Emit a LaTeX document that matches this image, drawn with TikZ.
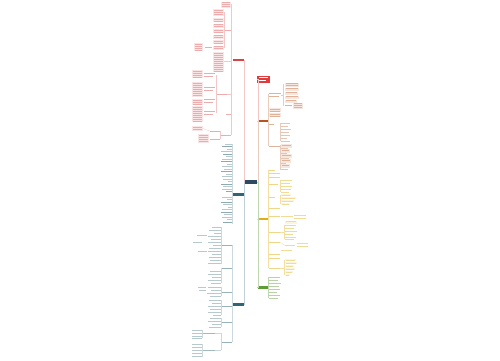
\documentclass[tikz,border=0pt]{standalone}
\usetikzlibrary{calc}
\definecolor{hubblue}{HTML}{2C4A61}
\definecolor{redbr}{HTML}{D64545}
\definecolor{tealbr}{HTML}{2F6577}
\definecolor{brownbr}{HTML}{B5561E}
\definecolor{goldbr}{HTML}{E2AE12}
\definecolor{greenbr}{HTML}{5E9C35}
\definecolor{titlered}{HTML}{E23B3B}

% one blurred text line: x1, x2, y, colour
\newcommand{\tline}[4]{\fill[#4] (#1,#3-0.5) rectangle (#2,#3+0.5);}
% a boxed text block: x1, y1, x2, y2, colour
\newcommand{\tblock}[5]{%
  \fill[#5!14] (#1,#2) rectangle (#3,#4);
  \pgfmathtruncatemacro{\nlines}{max(1,(#4-#2)/2)}%
  \foreach \k in {1,...,\nlines}{\fill[#5!45] (#1+0.6,#2+2*\k-1.2) rectangle (#3-0.6,#2+2*\k-0.5);}
}

\begin{document}
\begin{tikzpicture}[x=1pt,y=-1pt,
  main/.style={rectangle,inner sep=0pt,minimum width=11pt,minimum height=2.6pt},
  lk/.style={line width=0.3pt}]
  \useasboundingbox[fill=white] (0,0) rectangle (500,360);

  % main topics
  \node[main,fill=hubblue,minimum width=12.5pt,minimum height=4pt] (hub) at (251,182) {};
  \node[main,fill=redbr] (redL) at (238,60) {};
  \node[main,fill=tealbr] (tealA) at (238,194.5) {};
  \node[main,fill=tealbr,minimum height=3pt] (tealB) at (238,304) {};
  \node[main,fill=titlered,minimum width=12.5pt,minimum height=7pt] (title) at (263.5,79) {};
  \node[main,fill=brownbr] (brownR) at (263,121) {};
  \node[main,fill=goldbr] (goldR) at (263,219) {};
  \node[main,fill=greenbr,minimum height=3pt] (greenR) at (263,287) {};
  \tline{259}{268}{77.2}{white}
  \tline{259}{266}{80.6}{white}

  \draw[redbr!30,lk] (hub.west) -- ++(-0.6,0) |- (redL.east);
  \draw[tealbr!30,lk] (hub.west) -- ++(-0.6,0) |- (tealA.east);
  \draw[tealbr!30,lk] (hub.west) -- ++(-0.6,0) |- (tealB.east);
  \draw[titlered!30,lk] (hub.east) -- ++(0.6,0) |- (title.west);
  \draw[brownbr!30,lk] (hub.east) -- ++(0.6,0) |- (brownR.west);
  \draw[goldbr!40,lk] (hub.east) -- ++(0.6,0) |- (goldR.west);
  \draw[greenbr!40,lk] (hub.east) -- ++(0.6,0) |- (greenR.west);

  % red branch, left
  \draw[redbr!30,lk] (231.5,4) -- (231.5,135);
  \tblock{221}{1.5}{231}{7.5}{redbr}
  \tline{225}{231}{30}{redbr!45}
  \draw[redbr!30,lk] (224.5,12) -- (224.5,47.5);
  \tblock{213}{9}{224}{16}{redbr}
  \tblock{213}{18}{224}{22}{redbr}
  \tblock{213}{23.5}{224}{27.5}{redbr}
  \tblock{213}{29}{224}{33}{redbr}
  \tblock{213}{34.5}{224}{38.5}{redbr}
  \tblock{213}{40}{224}{44}{redbr}
  \tblock{213}{45.5}{224}{49.5}{redbr}
  \tline{205}{212}{47.5}{redbr!45}
  \tblock{194}{43}{203}{51}{redbr}
  \tblock{213}{52}{224}{72}{redbr}
  \draw[redbr!30,lk] (224,61) -- (231.5,61);
  \tline{217}{227}{94}{redbr!45}
  \draw[redbr!30,lk] (227,94) -- (231.5,94);
  \draw[redbr!30,lk] (216,75) -- (216,113);
  \foreach \y in {75,89,101,113}{
    \tline{204}{215}{\y-1.2}{redbr!45}
    \tline{204}{213}{\y+1}{redbr!45}}
  \tblock{192}{70}{203}{78}{redbr}
  \tblock{192}{82}{203}{97}{redbr}
  \tblock{192}{99}{203}{105}{redbr}
  \tblock{192}{106}{203}{122}{redbr}
  \tline{226}{231}{114}{redbr!45}
  \tline{221}{231}{135}{redbr!45}
  \draw[redbr!30,lk] (220.5,131) -- (220.5,139);
  \tline{210}{220}{131}{redbr!45}
  \tblock{192}{126}{203}{131}{redbr}
  \draw[redbr!30,lk] (203,128.5) -- (210,131);
  \tline{210}{220}{139}{redbr!45}
  \fill[redbr!35] (198,134) rectangle (209,143);
  \tblock{198}{134}{209}{143}{redbr}

  % teal branch A, left
  \draw[tealbr!25,lk] (232,143.5) -- (232,224);
  \foreach \y/\xl/\c in {144/225/35,146.5/222/55,149/227/35,151.5/221/35,154/223/55,
      156.5/226/35,159/222/35,161.5/221/55,164/227/35,166.5/222/35,169/224/35,
      171.5/221/55,174/226/35,176.5/222/35,179/223/35,181.5/228/35,184/221/55,
      186.5/223/35,189/222/35,191.5/226/55,197/222/35,199.5/227/35,202/221/55,
      204.5/223/35,207/228/35,209.5/222/35,212/221/55,214.5/224/35,217/222/35,
      219.5/227/35,222/223/55}
    \tline{\xl}{231.5}{\y}{tealbr!\c};

  % teal branch B, left
  \draw[tealbr!25,lk] (232.5,245) -- (232.5,342);
  \foreach \y in {245,268,292,306,322,342}
    \tline{222}{232}{\y}{tealbr!50};
  \draw[tealbr!25,lk] (221,227) -- (221,264);
  \foreach \y/\xl in {227/212,230/209,233/214,236/208,239/211,242/208,245/213,
      248/209,251/208,254/212,257/209,260/210,263/208}
    \tline{\xl}{220.5}{\y}{tealbr!35};
  \tline{197}{207}{235}{tealbr!35}
  \tline{193}{202}{242}{tealbr!35}
  \tline{198}{207}{251}{tealbr!35}
  \draw[tealbr!25,lk] (221,268) -- (221,283);
  \foreach \y/\xl in {271/210,274/208,277/212,280/208,283/211}
    \tline{\xl}{220.5}{\y}{tealbr!35};
  \draw[tealbr!25,lk] (221,287) -- (221,296);
  \foreach \y/\xl in {287/208,290/211,293/207,296/210}
    \tline{\xl}{220.5}{\y}{tealbr!35};
  \tline{198}{206}{287}{tealbr!35}
  \tline{199}{206}{290}{tealbr!35}
  \draw[tealbr!25,lk] (221,300) -- (221,315);
  \foreach \y/\xl in {300/209,303/212,306/208,309/210,312/208,315/213}
    \tline{\xl}{220.5}{\y}{tealbr!35};
  \draw[tealbr!25,lk] (221,318) -- (221,327);
  \foreach \y/\xl in {318/210,321/208,324/212,327/209}
    \tline{\xl}{220.5}{\y}{tealbr!35};
  \draw[tealbr!25,lk] (221,333) -- (221,350);
  \tline{203}{215}{333}{tealbr!45}
  \tline{203}{215}{350}{tealbr!45}
  \draw[tealbr!25,lk] (215,333) -- (221,333) (215,350) -- (221,350);
  \draw[tealbr!25,lk] (202.5,330) -- (202.5,338);
  \foreach \y in {330,333,336,338.5}
    \tline{192}{202}{\y}{tealbr!35};
  \draw[tealbr!25,lk] (202.5,344) -- (202.5,357);
  \foreach \y in {344,347,350,353,356}
    \tline{192}{202}{\y}{tealbr!35};

  % brown branch, right
  \draw[brownbr!30,lk] (268.5,94) -- (268.5,146);
  \tline{269}{281}{93.5}{brownbr!45}
  \tline{269}{279}{96}{brownbr!45}
  \draw[brownbr!30,lk] (281,95) -- (283.5,95);
  \draw[brownbr!30,lk] (283.5,84) -- (283.5,105.5);
  \tblock{285}{82.5}{299}{86.5}{brownbr}
  \tblock{285}{87.5}{299}{90.5}{brownbr}
  \tblock{285}{91.5}{298}{94.5}{brownbr}
  \tblock{285}{95.5}{299}{98.5}{brownbr}
  \tblock{285}{99.5}{297}{102.5}{brownbr}
  \tline{285}{292}{105.5}{brownbr!45}
  \tblock{293}{102.5}{303}{108.5}{brownbr}
  \tblock{269}{108}{281}{112}{brownbr}
  \tblock{269}{113}{281}{117}{brownbr}
  \tline{269}{274}{124}{brownbr!45}
  \draw[brownbr!30,lk] (280.5,123) -- (280.5,141);
  \foreach \y/\xr in {123/290,126/288,129/291,132/289,135/290,138/287,141/290}
    \tline{281}{\xr}{\y}{brownbr!35};
  \tline{269}{280}{146}{brownbr!45}
  \draw[brownbr!30,lk] (280.5,145) -- (280.5,169.5);
  \foreach \y/\xr in {146/292,151/290,156/292,161/291,166/290}
    \tblock{281}{\y-1.8}{\xr}{\y+1.8}{brownbr};
  \foreach \y/\xr in {148.5/288,153.5/287,158.5/289,163.5/286,169/288}
    \tline{281}{\xr}{\y}{brownbr!35};

  % gold branch, right
  \draw[goldbr!40,lk] (268.5,170) -- (268.5,268);
  \tline{269}{275}{170.5}{goldbr!50}
  \tline{269}{280}{173.5}{goldbr!50}
  \tline{269}{280}{177.5}{goldbr!50}
  \tline{269}{278}{184}{goldbr!50}
  \draw[goldbr!40,lk] (280.5,180) -- (280.5,192);
  \foreach \y/\xr in {180/292,183/290,186/292,189/291,192/289}
    \tline{281}{\xr}{\y}{goldbr!45};
  \tline{269}{275}{197}{goldbr!50}
  \draw[goldbr!40,lk] (280.5,195) -- (280.5,204);
  \foreach \y/\xr in {195/291,198/296,201/294,204/290}
    \tblock{281}{\y-1.3}{\xr}{\y+1.3}{goldbr};
  \tline{269}{280}{208}{goldbr!50}
  \tline{269}{280}{216.5}{goldbr!50}
  \tline{281}{293}{216.5}{goldbr!45}
  \tline{294}{306}{215}{goldbr!45}
  \tline{294}{306}{218}{goldbr!45}
  \tblock{285}{220.5}{297}{223.5}{goldbr}
  \tline{269}{280}{232}{goldbr!50}
  \draw[goldbr!40,lk] (284,225) -- (284,239);
  \draw[goldbr!40,lk] (280,232) -- (284,232);
  \foreach \y/\xr in {225/296,228/294,231/297,234/293,237/296,239.5/294}
    \tline{285}{\xr}{\y}{goldbr!45};
  \tline{269}{280}{242}{goldbr!50}
  \tline{285}{295}{245.5}{goldbr!45}
  \draw[goldbr!40,lk] (280,242) -- (285,245.5);
  \tline{297}{308}{243.5}{goldbr!45}
  \tline{297}{308}{246.5}{goldbr!45}
  \tline{281}{292}{250}{goldbr!45}
  \tline{269}{280}{254.5}{goldbr!50}
  \tline{269}{280}{258}{goldbr!50}
  \tline{269}{280}{268}{goldbr!50}
  \draw[goldbr!40,lk] (284,260) -- (284,275);
  \draw[goldbr!40,lk] (280,268) -- (284,268);
  \foreach \y/\xr in {260/296,263/297,266/294,269/295,272/293,275/290}
    \tblock{285}{\y-1.2}{\xr}{\y+1.2}{goldbr};

  % green branch, right
  \draw[greenbr!40,lk] (268.5,277) -- (268.5,298);
  \foreach \y/\xr in {277/280,280/278,283/281,286/279,289/280,292/277,295/280,298/278}
    \tline{269}{\xr}{\y}{greenbr!45};
\end{tikzpicture}
\end{document}
